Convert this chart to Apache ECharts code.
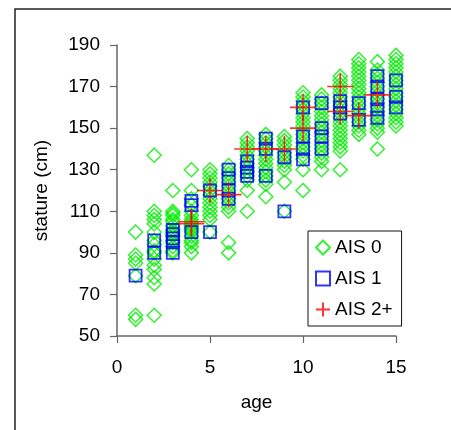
<!DOCTYPE html>
<html>
<head>
<meta charset="utf-8">
<script src="https://cdn.jsdelivr.net/npm/echarts@6/dist/echarts.min.js"></script>
<style>
html,body{margin:0;padding:0;background:#fff;}
#chart{width:451px;height:430px;}
</style>
</head>
<body>
<div id="chart"></div>
<script>
// ---- data (age, stature cm) ----
const seriesNames = ['AIS 0', 'AIS 1', 'AIS 2+'];
const xTicks = [0, 5, 10, 15];
const yTicks = [50, 70, 90, 110, 130, 150, 170, 190];

const ais0Ages = [1,2,3,4,5,6,7,8,9,10,11,12,13,14,15];
const ais0Values = [
  [100, 89, 87, 85, 79, 60, 58],
  [137, 110, 108, 106, 104, 100, 96, 94, 91, 90, 87, 84, 82, 78, 75, 60],
  [120, 110, 109, 108, 106, 105, 103, 101, 100, 99, 98, 96, 95, 93, 91, 90],
  [130, 120, 116, 113, 110, 108, 106, 105, 104, 103, 102, 101, 100, 98, 96, 95, 93, 90],
  [130, 128, 126, 124, 122, 120, 118, 116, 114, 112, 110, 108, 106, 100],
  [132, 130, 128, 126, 124, 122, 120, 118, 116, 114, 112, 110, 95, 90],
  [145, 143, 141, 139, 137, 135, 133, 131, 129, 127, 125, 120, 110],
  [147, 145, 143, 141, 139, 137, 135, 133, 131, 129, 127, 125, 123, 117],
  [146, 144, 142, 140, 138, 136, 134, 132, 130, 124, 110],
  [167, 165, 163, 161, 159, 157, 155, 153, 151, 149, 147, 145, 143, 141, 139, 137, 135, 130, 120],
  [166, 164, 162, 160, 158, 156, 154, 152, 150, 148, 146, 144, 142, 140, 138, 136, 134, 130],
  [175, 173, 171, 169, 167, 165, 163, 161, 159, 157, 155, 153, 151, 149, 147, 145, 143, 141, 139, 130],
  [183, 181, 179, 177, 175, 173, 171, 169, 167, 165, 163, 161, 159, 157, 155, 153, 151, 149, 147],
  [182, 178, 176, 174, 172, 170, 168, 166, 164, 162, 160, 158, 156, 154, 152, 150, 148, 140],
  [185, 183, 181, 179, 177, 175, 173, 171, 169, 167, 165, 163, 161, 159, 157, 155, 153, 151]
];

const ais1Ages = [1,2,3,4,5,6,7,8,9,10,11,12,13,14,15];
const ais1Values = [
  [79],
  [96, 90],
  [101, 99, 97, 95, 90],
  [115, 113, 100],
  [120, 100],
  [130, 126, 120, 116],
  [134, 131, 129, 127],
  [145, 140, 127],
  [136, 110],
  [160, 146, 140, 135],
  [162, 150, 146, 140],
  [163, 160, 157],
  [162, 154],
  [175, 170, 164, 159, 155],
  [173, 165, 160]
];

const ais2Ages = [4, 5, 6, 7, 8, 9, 10, 12, 13, 14];
const ais2Values = [
  [105, 104],
  [120],
  [118],
  [140],
  [140],
  [140],
  [160, 150],
  [170, 158],
  [156],
  [166]
];

function toPoints(ages, values) {
  const pts = [];
  ages.forEach((a, i) => values[i].forEach(v => pts.push([a, v])));
  return pts;
}

const chart = echarts.init(document.getElementById('chart'), null, {renderer: 'canvas'});
const FONT = 'Liberation Sans, Arial, sans-serif';
const plusPath = 'path://M0,-13L0,13M-13,0L13,0';

chart.setOption({
  animation: false,
  backgroundColor: '#fff',
  textStyle: {fontFamily: FONT},
  graphic: [{
    type: 'rect',
    shape: {x: 15, y: 9, width: 700, height: 700},
    style: {fill: 'none', stroke: '#222', lineWidth: 1.5},
    silent: true, z: -1
  }],
  grid: {left: 117, right: 55, top: 45, bottom: 94},
  legend: {
    orient: 'vertical',
    left: 308, top: 231,
    backgroundColor: '#fff',
    borderColor: '#111', borderWidth: 1,
    padding: [7, 9, 7, 7],
    itemWidth: 14, itemHeight: 14, itemGap: 12,
    textStyle: {fontSize: 19, color: '#000', fontFamily: FONT},
    data: seriesNames
  },
  xAxis: {
    type: 'value', min: xTicks[0], max: xTicks[xTicks.length - 1], interval: 5,
    name: 'age', nameLocation: 'middle', nameGap: 57,
    nameTextStyle: {fontSize: 19, color: '#000', fontFamily: FONT},
    axisLine: {show: true, onZero: false, lineStyle: {color: '#666', width: 1.5}},
    axisTick: {show: true, length: 7, lineStyle: {color: '#666', width: 1.2}},
    axisLabel: {fontSize: 19, color: '#000', margin: 22, fontFamily: FONT},
    splitLine: {show: false}
  },
  yAxis: {
    type: 'value', min: yTicks[0], max: yTicks[yTicks.length - 1], interval: 20,
    name: 'stature (cm)', nameLocation: 'middle', nameGap: 66,
    nameTextStyle: {fontSize: 19, color: '#000', fontFamily: FONT},
    axisLine: {show: true, onZero: false, lineStyle: {color: '#666', width: 1.5}},
    axisTick: {show: true, length: 7, lineStyle: {color: '#666', width: 1.2}},
    axisLabel: {fontSize: 19, color: '#000', margin: 17, fontFamily: FONT},
    splitLine: {show: false}
  },
  series: [
    {
      name: seriesNames[0], type: 'scatter', symbol: 'diamond', symbolSize: 14,
      itemStyle: {color: 'rgba(0,0,0,0)', borderColor: '#00ee00', borderWidth: 1.5},
      data: toPoints(ais0Ages, ais0Values), z: 2
    },
    {
      name: seriesNames[1], type: 'scatter', symbol: 'rect', symbolSize: 12,
      itemStyle: {color: 'rgba(0,0,0,0)', borderColor: '#0000ff', borderWidth: 1.8},
      data: toPoints(ais1Ages, ais1Values), z: 3
    },
    {
      name: seriesNames[2], type: 'scatter', symbol: plusPath, symbolSize: 26,
      itemStyle: {color: 'rgba(0,0,0,0)', borderColor: '#ff0000', borderWidth: 1.6},
      data: toPoints(ais2Ages, ais2Values), z: 4
    }
  ]
});
</script>
</body>
</html>
